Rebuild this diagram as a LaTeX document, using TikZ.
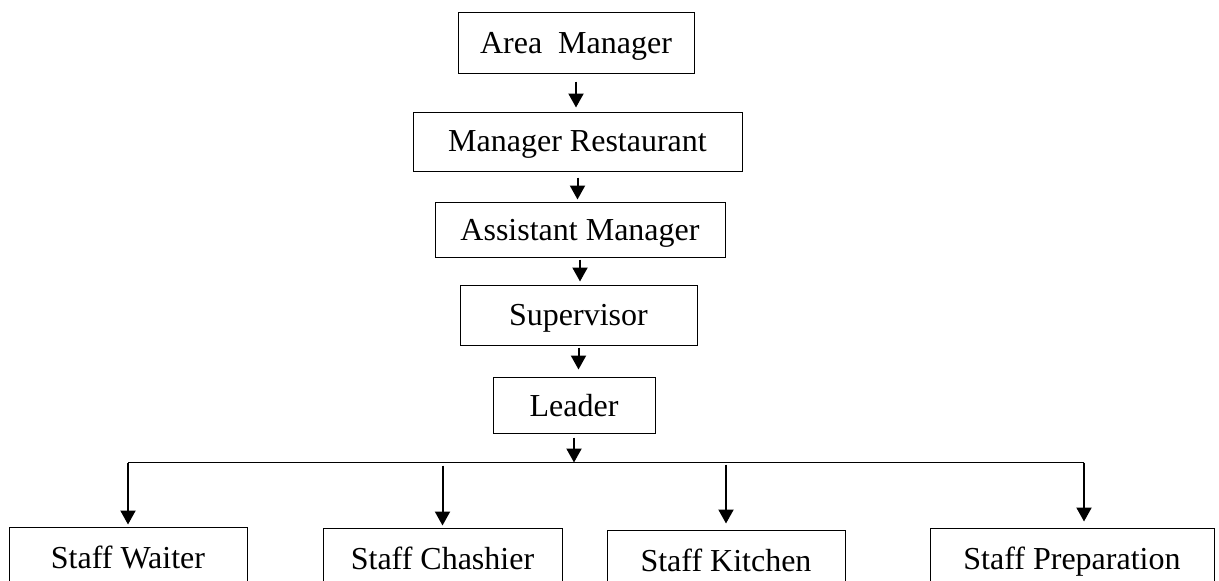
\documentclass[tikz,border=0pt]{standalone}
\usepackage{fontspec}
\setmainfont{Liberation Serif}
\usetikzlibrary{arrows.meta}
\tikzset{block/.style={draw,line width=0.5pt,inner sep=0pt,text depth=0pt,font=\fontsize{16}{19}\selectfont},
         line/.style={line width=0.55pt}
}
\tikzstyle{arrow} = [line width=1pt,-{Triangle[width=7.5pt,length=7pt]}]

\begin{document}
\begin{tikzpicture}[x=0.5pt,y=-0.5pt]
\useasboundingbox (0,0) rectangle (1219,580);
\clip (0,0) rectangle (1219,580);

% chain of command
\node[block,minimum width=118pt,minimum height=30.5pt] (area) at (576,42.5) {Area~~Manager};
\node[block,minimum width=164.5pt,minimum height=29.5pt] (mgr) at (577.5,141.5) {Manager Restaurant};
\node[block,minimum width=145pt,minimum height=27.5pt] (asst) at (580,229.5) {Assistant Manager};
\node[block,minimum width=118.5pt,minimum height=30pt] (sup) at (578.5,315) {Supervisor};
\node[block,minimum width=81pt,minimum height=28pt] (leader) at (574,405) {Leader};

% staff
\node[block,minimum width=119pt,minimum height=30.5pt] (waiter) at (128,557.5) {Staff Waiter};
\node[block,minimum width=119.5pt,minimum height=30.5pt] (cashier) at (442.5,558.5) {Staff Chashier};
\node[block,minimum width=119pt,minimum height=30.5pt] (kitchen) at (726,560.5) {Staff Kitchen};
\node[block,minimum width=142pt,minimum height=30.5pt] (prep) at (1072,558.5) {Staff Preparation};

\coordinate (bus) at (574,462.5);
\coordinate (prepbus) at (1084,462.5);

\draw[arrow,shorten <=4pt,shorten >=2pt] (area) -- (area.south |- mgr.north);
\draw[arrow,shorten <=3pt,shorten >=1pt] (mgr) -- (mgr.south |- asst.north);
\draw[arrow,shorten <=1pt,shorten >=1.5pt] (asst) -- (asst.south |- sup.north);
\draw[arrow,shorten <=1pt,shorten >=3.5pt] (sup) -- (sup.south |- leader.north);
\draw[arrow,shorten <=2pt] (leader) -- (bus);

\draw[line] (waiter.north |- bus) -- (prepbus);
\draw[arrow,shorten >=1pt] (waiter.north |- bus) -- (waiter.north);
\draw[arrow,shorten <=1.5pt,shorten >=1pt] (cashier.north |- bus) -- (cashier.north);
\draw[arrow,shorten <=1pt,shorten >=3pt] (kitchen.north |- bus) -- (kitchen.north);
\draw[arrow,shorten >=3pt] (prepbus) -- (prepbus |- prep.north);

\end{tikzpicture}
\end{document}
